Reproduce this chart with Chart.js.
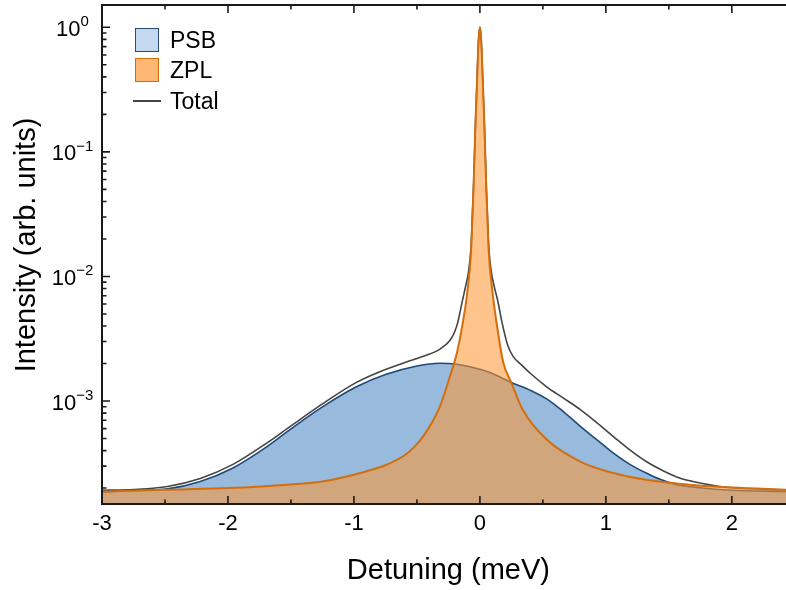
<!DOCTYPE html>
<html>
<head>
<meta charset="utf-8">
<script src="https://cdn.jsdelivr.net/npm/chart.js@4.4.0/dist/chart.umd.min.js"></script>
<style>
html, body { margin: 0; padding: 0; background: #fff; overflow: hidden; }
#wrap { position: relative; width: 786px; height: 590px; }
.lg { position: absolute; left: 135px; height: 24px; font: 23px "Liberation Sans", Arial, sans-serif; line-height: 24px; color: #000; }
.lg i { position: absolute; left: 0; top: 0; width: 24px; height: 24px; box-sizing: border-box; }
.lg span { position: absolute; left: 35px; top: 0; white-space: nowrap; }
</style>
</head>
<body>
<div id="wrap">
  <canvas id="c" width="786" height="590"></canvas>
  <div class="lg" style="top:28px"><i style="background:#c4d8ee;border:1.5px solid #2a4a70"></i><span>PSB</span></div>
  <div class="lg" style="top:58px"><i style="background:#ffb874;border:1.5px solid #d46e0a"></i><span>ZPL</span></div>
  <div class="lg" style="top:89px"><i style="left:-2px;top:11px;width:28px;height:2px;background:#444"></i><span>Total</span></div>
</div>
<script>
// values (detuning in meV, intensity arb. units)
const psbX = [-3.0, -2.75, -2.48, -2.22, -1.96, -1.69, -1.5, -1.25, -0.98, -0.75, -0.5, -0.32, -0.18, 0, 0.08, 0.25,
              0.4, 0.53, 0.66, 0.8, 0.93, 1.06, 1.19, 1.32, 1.43, 1.54, 1.75, 2.0, 2.43];
const psbY = [1.87e-4, 1.91e-4, 1.97e-4, 2.26e-4, 2.9e-4, 4.3e-4, 5.97e-4, 8.97e-4, 1.3e-3, 1.63e-3, 1.91e-3, 2.01e-3, 1.97e-3, 1.8e-3, 1.69e-3, 1.41e-3,
              1.22e-3, 1.04e-3, 8.26e-4, 6.23e-4, 4.88e-4, 3.81e-4, 3.1e-4, 2.64e-4, 2.35e-4, 2.16e-4, 2.01e-4, 1.92e-4, 1.88e-4];

const zplX = [-3.0, -2.5, -2.0, -1.5, -1.25, -1.0, -0.88, -0.75, -0.6, -0.52, -0.45, -0.32, -0.24, -0.18, -0.13, -0.1, -0.07, -0.06, -0.05, -0.035, -0.02, -0.01, 0,
              0.01, 0.02, 0.035, 0.05, 0.06, 0.07, 0.1, 0.13, 0.185, 0.25, 0.34, 0.53, 0.8, 1.06, 1.32, 1.6, 2.0, 2.43];
const zplY = [1.87e-4, 1.94e-4, 2.0e-4, 2.14e-4, 2.26e-4, 2.56e-4, 2.77e-4, 3.05e-4, 3.65e-4, 4.28e-4, 5.2e-4, 8.9e-4, 1.55e-3, 2.5e-3, 4.6e-3, 7.5e-3, 1.6e-2, 2.9e-2, 5.3e-2, 0.17, 0.45, 0.8, 1.0,
              0.8, 0.45, 0.17, 5.3e-2, 2.9e-2, 1.6e-2, 7.5e-3, 4.4e-3, 2.05e-3, 1.4e-3, 8.5e-4, 4.9e-4, 3.25e-4, 2.64e-4, 2.33e-4, 2.16e-4, 2.02e-4, 1.94e-4];

const totX = [-3.0, -2.75, -2.48, -2.22, -1.96, -1.69, -1.5, -1.25, -0.98, -0.75, -0.53, -0.4, -0.32, -0.24, -0.2, -0.175, -0.14, -0.115, -0.09, -0.07, -0.06, -0.05, -0.035, -0.02, -0.01, 0,
              0.01, 0.02, 0.035, 0.05, 0.06, 0.07, 0.09, 0.115, 0.14, 0.175, 0.22, 0.265, 0.33, 0.4, 0.53, 0.66, 0.8, 0.93, 1.06, 1.19, 1.32, 1.45, 1.59, 1.69, 1.96, 2.43];
const totY = [1.92e-4, 1.95e-4, 2.06e-4, 2.39e-4, 3.1e-4, 4.61e-4, 6.31e-4, 9.48e-4, 1.41e-3, 1.79e-3, 2.14e-3, 2.38e-3, 2.6e-3, 3.05e-3, 3.6e-3, 4.3e-3, 6.3e-3, 8.2e-3, 1.1e-2, 1.75e-2, 3.05e-2, 5.5e-2, 0.17, 0.45, 0.8, 1.0,
              0.8, 0.45, 0.17, 5.5e-2, 3.05e-2, 1.75e-2, 1.1e-2, 8.2e-3, 6.5e-3, 4.3e-3, 2.82e-3, 2.27e-3, 1.95e-3, 1.67e-3, 1.3e-3, 1.06e-3, 8.49e-4, 6.67e-4, 5.18e-4, 4.05e-4, 3.27e-4, 2.77e-4, 2.4e-4, 2.26e-4, 2.03e-4, 1.94e-4];

const xTickValues = [-3, -2, -1, 0, 1, 2];
const xTickLabels = ['-3', '-2', '-1', '0', '1', '2'];
const xMinorTicks = [-2.5, -1.5, -0.5, 0.5, 1.5];
const yTickValues = [1e-3, 1e-2, 1e-1, 1];
const yTickExps = ['\u22123', '\u22122', '\u22121', '0'];

const X_MIN = -3, X_MAX = 2.43, Y_MIN = 1.49e-4, Y_MAX = 1.51;
const FONT = '"Liberation Sans", Arial, sans-serif';

const yMinorTicks = [];
for (let d = 1e-4; d < 1; d *= 10) for (let k = 2; k <= 9; k++) {
  const v = k * d;
  if (v > Y_MIN && v < Y_MAX) yMinorTicks.push(v);
}

const pts = (xs, ys) => xs.map((v, i) => ({ x: v, y: ys[i] }));

// axes frame, inward ticks, superscript labels, titles
const axisDeco = {
  id: 'axisDeco',
  afterDraw(chart) {
    const { ctx, chartArea: a, scales: { x, y } } = chart;
    ctx.save();
    ctx.strokeStyle = '#1a1a1a';
    ctx.lineWidth = 2;
    ctx.beginPath();
    ctx.moveTo(a.right, a.top); ctx.lineTo(a.left, a.top); ctx.lineTo(a.left, a.bottom); ctx.lineTo(a.right, a.bottom);
    ctx.stroke();

    ctx.lineWidth = 1.6;
    ctx.beginPath();
    const xt = (v, len) => {
      const p = x.getPixelForValue(v);
      ctx.moveTo(p, a.bottom); ctx.lineTo(p, a.bottom - len);
      ctx.moveTo(p, a.top); ctx.lineTo(p, a.top + len);
    };
    xTickValues.forEach(v => xt(v, 8));
    xMinorTicks.forEach(v => xt(v, 4.5));
    const yt = (v, len) => {
      const p = y.getPixelForValue(v);
      ctx.moveTo(a.left, p); ctx.lineTo(a.left + len, p);
    };
    yTickValues.forEach(v => yt(v, 8));
    yMinorTicks.forEach(v => yt(v, 4.5));
    ctx.stroke();

    ctx.fillStyle = '#000';
    ctx.textBaseline = 'alphabetic';
    ctx.textAlign = 'left';
    yTickValues.forEach((v, i) => {
      const p = y.getPixelForValue(v);
      ctx.font = '22px ' + FONT;
      const wb = ctx.measureText('10').width;
      ctx.font = '15px ' + FONT;
      const we = ctx.measureText(yTickExps[i]).width;
      const x0 = 72.5 - (wb + we) / 2;
      ctx.font = '22px ' + FONT;
      ctx.fillText('10', x0, p + 8.5);
      ctx.font = '15px ' + FONT;
      ctx.fillText(yTickExps[i], x0 + wb, p - 1);
    });

    ctx.font = '29px ' + FONT;
    ctx.textAlign = 'center';
    ctx.fillText('Detuning (meV)', x.getPixelForValue(-0.25), 579);
    ctx.translate(35, 245);
    ctx.rotate(-Math.PI / 2);
    ctx.fillText('Intensity (arb. units)', 0, 0);
    ctx.restore();
  }
};

new Chart(document.getElementById('c'), {
  type: 'line',
  data: {
    datasets: [
      {
        label: 'ZPL', data: pts(zplX, zplY), order: 0,
        borderColor: 'rgb(212,110,12)', borderWidth: 2,
        backgroundColor: 'rgba(255,150,50,0.56)', fill: 'start'
      },
      {
        label: 'PSB', data: pts(psbX, psbY), order: 1,
        borderColor: 'rgb(31,73,120)', borderWidth: 1.6,
        backgroundColor: 'rgb(152,186,221)', fill: 'start'
      },
      {
        label: 'Total', data: pts(totX, totY), order: 2,
        borderColor: '#444', borderWidth: 1.6, fill: false
      }
    ]
  },
  options: {
    responsive: false,
    animation: false,
    devicePixelRatio: 1,
    layout: { autoPadding: false, padding: { top: 5, right: 0, left: 0, bottom: 0 } },
    elements: { point: { radius: 0 }, line: { cubicInterpolationMode: 'monotone' } },
    plugins: { legend: { display: false }, tooltip: { enabled: false } },
    scales: {
      x: {
        type: 'linear', min: X_MIN, max: X_MAX,
        grid: { display: false, drawTicks: false },
        border: { display: false },
        afterBuildTicks: s => { s.ticks = xTickValues.map(v => ({ value: v })); },
        afterFit: s => { s.height = 86; },
        ticks: {
          padding: 7, color: '#000', font: { family: FONT, size: 22 },
          callback: v => xTickLabels[xTickValues.indexOf(v)]
        }
      },
      y: {
        type: 'logarithmic', min: Y_MIN, max: Y_MAX,
        grid: { display: false, drawTicks: false },
        border: { display: false },
        ticks: { display: false },
        afterFit: s => { s.width = 102; }
      }
    }
  },
  plugins: [axisDeco]
});
</script>
</body>
</html>
